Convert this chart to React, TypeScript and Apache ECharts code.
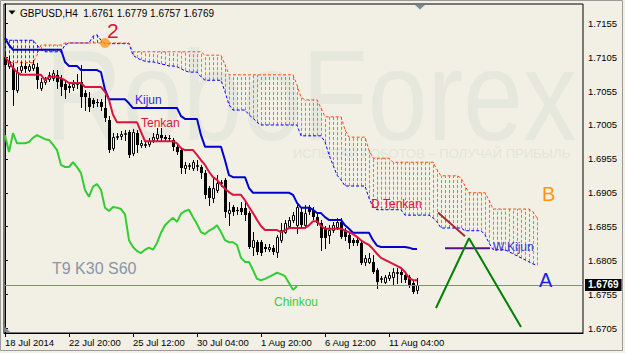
import React, { useEffect, useRef } from "react";
import * as echarts from "echarts";

const xTickIndex = [0, 16, 32, 48, 64, 80, 96];
const xTickLabels = ["18 Jul 2014", "22 Jul 20:00", "25 Jul 12:00", "30 Jul 04:00", "1 Aug 20:00", "6 Aug 12:00", "11 Aug 04:00"];
const yTicks = [1.6705, 1.6755, 1.6805, 1.6855, 1.6905, 1.6955, 1.7005, 1.7055, 1.7105, 1.7155];
const lastPrice = 1.6769;

// [open, close, low, high]
const candles = [
  [1.7105,1.7094,1.7089,1.7111],[1.7092,1.7099,1.7089,1.7107],[1.7089,1.7057,1.7035,1.7097],[1.7057,1.7083,1.7054,1.7091],
  [1.7086,1.7092,1.7083,1.7098],[1.7092,1.7088,1.7083,1.7097],[1.7086,1.7092,1.7085,1.7095],[1.7089,1.7095,1.7086,1.7101],
  [1.7091,1.7071,1.7060,1.7097],[1.7060,1.7068,1.7057,1.7074],[1.7068,1.7071,1.7066,1.7076],[1.7073,1.7079,1.7070,1.7083],
  [1.7074,1.7082,1.7071,1.7086],[1.7079,1.7068,1.7060,1.7086],[1.7074,1.7061,1.7049,1.7079],[1.7066,1.7057,1.7045,1.7071],
  [1.7063,1.7060,1.7054,1.7067],[1.7061,1.7066,1.7057,1.7071],[1.7066,1.7067,1.7060,1.7080],[1.7068,1.7046,1.7032,1.7094],
  [1.7052,1.7046,1.7027,1.7057],[1.7045,1.7032,1.7026,1.7054],[1.7042,1.7036,1.7032,1.7045],[1.7039,1.7037,1.7033,1.7043],
  [1.7039,1.7032,1.7027,1.7043],[1.7030,1.7015,1.7011,1.7049],[1.7012,1.6968,1.6965,1.7018],[1.6971,1.6987,1.6968,1.6993],
  [1.6987,1.6989,1.6984,1.6993],[1.6989,1.6992,1.6984,1.6996],[1.6992,1.6993,1.6983,1.6998],[1.6995,1.6961,1.6958,1.6998],
  [1.6964,1.6995,1.6961,1.6999],[1.6993,1.6976,1.6965,1.6998],[1.6976,1.6978,1.6973,1.6983],[1.6976,1.6977,1.6973,1.6981],
  [1.6977,1.6981,1.6974,1.6986],[1.6983,1.6987,1.6980,1.6993],[1.6986,1.6992,1.6981,1.7001],[1.6990,1.6986,1.6981,1.7001],
  [1.6987,1.6984,1.6981,1.6990],[1.6986,1.6984,1.6981,1.6990],[1.6983,1.6973,1.6968,1.6986],[1.6973,1.6965,1.6962,1.6976],
  [1.6968,1.6942,1.6934,1.6971],[1.6942,1.6946,1.6934,1.6950],[1.6945,1.6946,1.6940,1.6949],[1.6942,1.6950,1.6939,1.6953],
  [1.6945,1.6946,1.6939,1.6953],[1.6943,1.6934,1.6927,1.6946],[1.6934,1.6902,1.6897,1.6939],[1.6912,1.6897,1.6887,1.6915],
  [1.6897,1.6912,1.6891,1.6927],[1.6909,1.6919,1.6906,1.6931],[1.6919,1.6921,1.6915,1.6924],[1.6924,1.6877,1.6869,1.6927],
  [1.6875,1.6880,1.6857,1.6891],[1.6884,1.6877,1.6872,1.6887],[1.6880,1.6878,1.6874,1.6884],[1.6883,1.6877,1.6874,1.6891],
  [1.6883,1.6872,1.6865,1.6891],[1.6875,1.6825,1.6824,1.6878],[1.6825,1.6835,1.6813,1.6847],[1.6832,1.6818,1.6815,1.6835],
  [1.6832,1.6816,1.6813,1.6835],[1.6825,1.6822,1.6819,1.6829],[1.6822,1.6825,1.6819,1.6829],[1.6824,1.6818,1.6815,1.6828],
  [1.6818,1.6840,1.6810,1.6843],[1.6835,1.6850,1.6832,1.6860],[1.6847,1.6860,1.6846,1.6865],[1.6856,1.6865,1.6853,1.6869],
  [1.6865,1.6872,1.6862,1.6877],[1.6857,1.6884,1.6846,1.6887],[1.6877,1.6857,1.6853,1.6883],[1.6857,1.6875,1.6855,1.6887],
  [1.6884,1.6877,1.6874,1.6887],[1.6880,1.6869,1.6866,1.6884],[1.6869,1.6860,1.6857,1.6874],[1.6860,1.6838,1.6821,1.6865],
  [1.6853,1.6838,1.6824,1.6856],[1.6843,1.6850,1.6831,1.6857],[1.6850,1.6857,1.6847,1.6862],[1.6855,1.6862,1.6852,1.6868],
  [1.6862,1.6840,1.6838,1.6868],[1.6850,1.6840,1.6835,1.6853],[1.6843,1.6831,1.6824,1.6847],[1.6835,1.6831,1.6828,1.6838],
  [1.6835,1.6831,1.6828,1.6840],[1.6831,1.6801,1.6800,1.6834],[1.6803,1.6809,1.6798,1.6813],[1.6803,1.6809,1.6801,1.6816],
  [1.6803,1.6788,1.6787,1.6813],[1.6791,1.6773,1.6765,1.6794],[1.6778,1.6779,1.6773,1.6782],[1.6773,1.6781,1.6772,1.6784],
  [1.6779,1.6784,1.6776,1.6788],[1.6781,1.6788,1.6769,1.6794],[1.6787,1.6788,1.6772,1.6794],[1.6788,1.6784,1.6773,1.6794],
  [1.6784,1.6776,1.6773,1.6788],[1.6781,1.6769,1.6766,1.6784],[1.6772,1.6759,1.6757,1.6775],[1.6761,1.6769,1.6757,1.6779],
];

const tenkan = [
  1.7105,1.7098,1.7089,1.7083,1.7079,1.7079,1.7079,1.7079,1.7079,1.7079,
  1.7071,1.7076,1.7076,1.7076,1.7074,1.7071,1.7067,1.7067,1.7067,1.7067,
  1.7061,1.7061,1.7061,1.7061,1.7061,1.7054,1.7042,1.7020,1.7009,1.7009,
  1.7009,1.7009,1.7009,1.7009,1.6995,1.6981,1.6981,1.6981,1.6981,1.6981,
  1.6981,1.6981,1.6981,1.6978,1.6971,1.6968,1.6968,1.6968,1.6961,1.6953,
  1.6946,1.6936,1.6928,1.6924,1.6917,1.6911,1.6906,1.6902,1.6902,1.6902,
  1.6894,1.6884,1.6875,1.6865,1.6856,1.6850,1.6850,1.6850,1.6850,1.6847,
  1.6850,1.6853,1.6853,1.6853,1.6853,1.6853,1.6857,1.6863,1.6863,1.6856,
  1.6852,1.6852,1.6852,1.6852,1.6852,1.6849,1.6847,1.6844,1.6840,1.6835,
  1.6831,1.6828,1.6822,1.6815,1.6809,1.6806,1.6803,1.6800,1.6797,1.6794,
  1.6788,1.6779,1.6776,1.6776,
];

const kijun = [
  1.7133,1.7123,1.7116,1.7116,1.7116,1.7116,1.7116,1.7116,1.7116,1.7116,
  1.7116,1.7116,1.7116,1.7116,1.7116,1.7098,1.7092,1.7092,1.7092,1.7086,
  1.7086,1.7086,1.7086,1.7086,1.7083,1.7057,1.7043,1.7043,1.7043,1.7043,
  1.7043,1.7037,1.7030,1.7030,1.7030,1.7030,1.7030,1.7030,1.7030,1.7030,
  1.7030,1.7030,1.7030,1.7030,1.7018,1.7014,1.7014,1.7014,1.7014,1.6990,
  1.6973,1.6973,1.6973,1.6973,1.6973,1.6953,1.6931,1.6928,1.6928,1.6928,
  1.6928,1.6912,1.6905,1.6905,1.6905,1.6905,1.6905,1.6905,1.6905,1.6905,
  1.6905,1.6905,1.6902,1.6890,1.6883,1.6883,1.6883,1.6880,1.6875,1.6875,
  1.6869,1.6865,1.6865,1.6865,1.6865,1.6857,1.6852,1.6846,1.6846,1.6846,
  1.6846,1.6846,1.6835,1.6827,1.6825,1.6825,1.6825,1.6825,1.6825,1.6825,
  1.6825,1.6824,1.6822,1.6822,
];

const chinkou = [
  1.6990,1.6965,1.6993,1.6978,1.6978,1.6978,1.6980,1.6986,1.6990,1.6987,
  1.6984,1.6983,1.6976,1.6968,1.6946,1.6943,1.6943,1.6950,1.6943,1.6934,
  1.6909,1.6899,1.6914,1.6918,1.6909,1.6883,1.6878,1.6884,1.6883,1.6881,
  1.6873,1.6835,1.6825,1.6819,1.6816,1.6821,1.6824,1.6821,1.6831,1.6846,
  1.6857,1.6863,1.6868,1.6862,1.6874,1.6878,1.6880,1.6869,1.6859,1.6847,
  1.6844,1.6849,1.6852,1.6857,1.6847,1.6835,1.6832,1.6832,1.6828,1.6809,
  1.6803,1.6803,1.6791,1.6778,1.6776,1.6778,1.6781,1.6784,1.6787,1.6785,
  1.6782,1.6772,1.6762,1.6767,
];

const senkouA = [
  1.7133,1.7130,1.7130,1.7130,1.7130,1.7130,1.7130,1.7130,1.7123,1.7116,
  1.7113,1.7113,1.7113,1.7113,1.7113,1.7123,1.7126,1.7126,1.7126,1.7126,
  1.7126,1.7126,1.7136,1.7138,1.7130,1.7125,1.7125,1.7125,1.7125,1.7125,
  1.7125,1.7125,1.7108,1.7104,1.7101,1.7099,1.7098,1.7098,1.7097,1.7095,
  1.7094,1.7092,1.7092,1.7091,1.7088,1.7085,1.7083,1.7083,1.7083,1.7076,
  1.7071,1.7071,1.7071,1.7071,1.7071,1.7054,1.7035,1.7027,1.7027,1.7027,
  1.7027,1.7020,1.7015,1.7009,1.7005,1.7005,1.7005,1.7005,1.7005,1.7005,
  1.7005,1.7005,1.7005,1.7005,1.6989,1.6989,1.6989,1.6989,1.6989,1.6989,
  1.6980,1.6961,1.6946,1.6931,1.6924,1.6915,1.6915,1.6915,1.6915,1.6915,
  1.6915,1.6897,1.6884,1.6880,1.6880,1.6880,1.6880,1.6880,1.6880,1.6880,
  1.6872,1.6872,1.6872,1.6872,1.6872,1.6872,1.6872,1.6868,1.6862,1.6853,
  1.6853,1.6853,1.6853,1.6853,1.6853,1.6849,1.6849,1.6849,1.6849,1.6849,
  1.6843,1.6831,1.6821,1.6821,1.6821,1.6821,1.6818,1.6815,1.6812,1.6809,
  1.6806,1.6803,1.6800,1.6798,
];

const senkouB = [
  1.7097,1.7097,1.7097,1.7097,1.7097,1.7097,1.7097,1.7097,1.7108,1.7123,
  1.7123,1.7123,1.7123,1.7123,1.7123,1.7126,1.7126,1.7126,1.7126,1.7126,
  1.7126,1.7126,1.7126,1.7126,1.7126,1.7126,1.7126,1.7126,1.7126,1.7126,
  1.7126,1.7126,1.7113,1.7113,1.7113,1.7113,1.7113,1.7113,1.7113,1.7113,
  1.7113,1.7113,1.7113,1.7113,1.7113,1.7113,1.7113,1.7113,1.7113,1.7113,
  1.7108,1.7108,1.7108,1.7108,1.7108,1.7094,1.7079,1.7079,1.7079,1.7079,
  1.7079,1.7079,1.7079,1.7079,1.7079,1.7079,1.7079,1.7079,1.7079,1.7079,
  1.7079,1.7079,1.7079,1.7064,1.7046,1.7042,1.7042,1.7042,1.7042,1.7030,
  1.7017,1.7017,1.7017,1.7017,1.7017,1.6998,1.6987,1.6987,1.6987,1.6987,
  1.6987,1.6968,1.6956,1.6956,1.6956,1.6956,1.6956,1.6950,1.6950,1.6950,
  1.6950,1.6950,1.6950,1.6950,1.6950,1.6950,1.6950,1.6950,1.6939,1.6930,
  1.6930,1.6930,1.6930,1.6930,1.6927,1.6915,1.6905,1.6905,1.6905,1.6905,
  1.6905,1.6894,1.6881,1.6881,1.6881,1.6881,1.6881,1.6881,1.6881,1.6881,
  1.6881,1.6881,1.6877,1.6868,
];

// hand-drawn analysis marks, in (bar index, price)
const dTenkanLine = [[108.25, 1.6876], [115, 1.6841]];
const wKijunLine = [[110, 1.6823], [121.25, 1.6823]];
const forecastPath = [[107.75, 1.6735], [116, 1.6838], [129, 1.6707]];
const markerDot = [[25, 1.7126]];

const FONT = "'Liberation Sans', Arial, sans-serif";

export default function App() {
  const ref = useRef<HTMLDivElement>(null);
  useEffect(() => {
    document.body.style.margin = "0";
    const chart = echarts.init(ref.current!, null, { renderer: "svg" });
    const hatchData = senkouA.map((a, i) => [i, a, senkouB[i]]);
    const candleData = candles.map((c, i) => [i, c[0], c[1], c[2], c[3]]);
    const txt = (text: string, x: number, y: number, size: number, fill: string, extra: any = {}) => ({
      type: "text", x, y, z: 100, silent: true,
      style: { text, fill, font: `${size}px ${FONT}`, textVerticalAlign: "middle", textAlign: "left", ...extra },
    });
    const option: any = {
      animation: false,
      backgroundColor: "#F2F0E5",
      grid: { left: 4, top: 4, width: 579, height: 329, show: true, borderColor: "#000", borderWidth: 1, backgroundColor: "transparent" },
      xAxis: {
        type: "value", min: -0.25, max: 144.5,
        axisLine: { show: true, lineStyle: { color: "#000", width: 1 } },
        splitLine: { show: false },
        axisTick: { show: true, customValues: xTickIndex, length: 4, lineStyle: { color: "#000" } },
        axisLabel: {
          customValues: xTickIndex,
          formatter: (v: number) => { const k = xTickIndex.indexOf(Math.round(v)); return k >= 0 ? xTickLabels[k] : ""; },
          align: "left", margin: 4, color: "#000", fontFamily: FONT, fontSize: 9.5,
        },
      },
      yAxis: {
        type: "value", position: "right", min: 1.66981, max: 1.71835,
        axisLine: { show: true, lineStyle: { color: "#000", width: 1 } },
        splitLine: { show: false },
        axisTick: { show: true, customValues: yTicks, length: 3, lineStyle: { color: "#000" } },
        axisLabel: { customValues: yTicks, formatter: (v: number) => v.toFixed(4), margin: 5, color: "#000", fontFamily: FONT, fontSize: 9.5 },
      },
      series: [
        {
          type: "custom", name: "cloud", z: 1, silent: true,
          data: hatchData, encode: { x: 0, y: [1, 2] },
          renderItem: (params: any, api: any) => {
            const i = api.value(0), a = api.value(1), b = api.value(2);
            const p1 = api.coord([i, a]), p2 = api.coord([i, b]);
            const x = Math.round(p1[0]) + 0.5;
            return {
              type: "line",
              shape: { x1: x, y1: p1[1], x2: x, y2: p2[1] },
              style: { stroke: a > b ? "#3C3CF5" : "#F56E42", lineWidth: 1, lineDash: [3, 2] },
            };
          },
        },
        {
          type: "line", name: "Senkou A", z: 2, symbol: "none", silent: true,
          data: senkouA.map((v, i) => [i, v]),
          lineStyle: { color: "#0000FF", width: 1, type: [3, 2] },
          markLine: {
            silent: true, symbol: "none", precision: 4,
            data: [{ yAxis: lastPrice }],
            lineStyle: { color: "#7D8A98", width: 1, type: "solid" },
            label: {
              show: true, position: "end", distance: 2, formatter: lastPrice.toFixed(4),
              color: "#fff", backgroundColor: "#000", padding: [1, 3, 1, 3],
              fontFamily: FONT, fontSize: 10, fontWeight: "bold",
            },
          },
        },
        {
          type: "line", name: "Senkou B", z: 2, symbol: "none", silent: true,
          data: senkouB.map((v, i) => [i, v]),
          lineStyle: { color: "#FF4A14", width: 1, type: [3, 2] },
        },
        {
          type: "custom", name: "GBPUSD", z: 3, silent: true,
          data: candleData, encode: { x: 0, y: [1, 2, 3, 4] },
          renderItem: (params: any, api: any) => {
            const i = api.value(0);
            const o = api.value(1), c = api.value(2), l = api.value(3), h = api.value(4);
            const po = api.coord([i, o]), pc = api.coord([i, c]);
            const pl = api.coord([i, l]), ph = api.coord([i, h]);
            const x = Math.round(po[0]);
            const top = Math.round(Math.min(po[1], pc[1]));
            const bot = Math.round(Math.max(po[1], pc[1]));
            const children: any[] = [
              { type: "line", shape: { x1: x + 0.5, y1: Math.round(ph[1]), x2: x + 0.5, y2: Math.round(pl[1]) + 1 }, style: { stroke: "#000", lineWidth: 1 } },
            ];
            if (c > o) {
              children.push({ type: "rect", shape: { x: x - 0.5, y: top + 0.5, width: 2, height: Math.max(bot - top, 1) }, style: { fill: "#fff", stroke: "#000", lineWidth: 1 } });
            } else {
              children.push({ type: "rect", shape: { x: x - 1, y: top, width: 3, height: Math.max(bot - top, 1) }, style: { fill: "#000" } });
            }
            return { type: "group", children };
          },
        },
        { type: "line", name: "Kijun", z: 4, symbol: "none", silent: true, data: kijun.map((v, i) => [i, v]), lineStyle: { color: "#0000D0", width: 2 } },
        { type: "line", name: "Tenkan", z: 5, symbol: "none", silent: true, data: tenkan.map((v, i) => [i, v]), lineStyle: { color: "#DC143C", width: 2 } },
        { type: "line", name: "Chinkou", z: 5, symbol: "none", silent: true, data: chinkou.map((v, i) => [i, v]), lineStyle: { color: "#32CD32", width: 2 } },
        { type: "line", name: "D.Tenkan", z: 6, symbol: "none", silent: true, data: dTenkanLine, lineStyle: { color: "#A52A2A", width: 2 } },
        { type: "line", name: "W.Kijun", z: 6, symbol: "none", silent: true, data: wKijunLine, lineStyle: { color: "#55108C", width: 2 } },
        { type: "line", name: "Forecast", z: 6, symbol: "none", silent: true, data: forecastPath, lineStyle: { color: "#008000", width: 2 } },
        { type: "scatter", name: "Point", z: 7, silent: true, data: markerDot, symbolSize: 10, itemStyle: { color: "#FF9A1A" } },
      ],
      graphic: [
        { type: "rect", z: 0, silent: true, shape: { x: 0.5, y: 0.5, width: 622, height: 350 }, style: { fill: "none", stroke: "#9A9A9A", lineWidth: 1 } },
        { type: "text", x: 45, y: 96, scaleX: 0.84, z: 0, silent: true, style: { text: "RoboForex", fill: "#E6E8DE", font: `128px ${FONT}`, textVerticalAlign: "middle", textAlign: "left" } },
        { type: "text", x: 293, y: 153, z: 0, silent: true, style: { text: "ИСПЫТАЙ РОБОТОВ – ПОЛУЧАЙ ПРИБЫЛЬ", fill: "#E3E5DA", font: `13px ${FONT}`, textVerticalAlign: "middle", textAlign: "left" } },
        { type: "polygon", z: 100, silent: true, shape: { points: [[8.5, 10.5], [15.5, 10.5], [12, 14.5]] }, style: { fill: "#000" } },
        txt("GBPUSD,H4  1.6761 1.6779 1.6757 1.6769", 20, 13, 10, "#000"),
        { type: "polygon", z: 100, silent: true, shape: { points: [[415, 5], [425, 5], [420, 9.5]] }, style: { fill: "#7A8A99" } },
        { type: "polygon", z: 100, silent: true, shape: { points: [[5, 327], [5, 332], [10, 332]] }, style: { fill: "#7A8A99" } },
        txt("2", 107, 30, 21, "#DC143C"),
        txt("Kijun", 135, 100, 12, "#2E2ED6"),
        txt("Tenkan", 141, 123, 12, "#DC143C"),
        txt("Chinkou", 274, 302, 12, "#3BCB3B"),
        txt("D.Tenkan", 371, 204, 12, "#DC143C"),
        txt("W.Kijun", 493, 247, 12, "#3535D0"),
        txt("T9 K30 S60", 52, 268, 16, "#8896A6"),
        txt("B", 542, 194, 20, "#FF9900"),
        txt("A", 539, 280, 20, "#2020E0"),
      ],
    };
    chart.setOption(option);
    return () => chart.dispose();
  }, []);
  return <div ref={ref} style={{ position: "fixed", left: 0, top: 0, width: 625, height: 353 }} />;
}
